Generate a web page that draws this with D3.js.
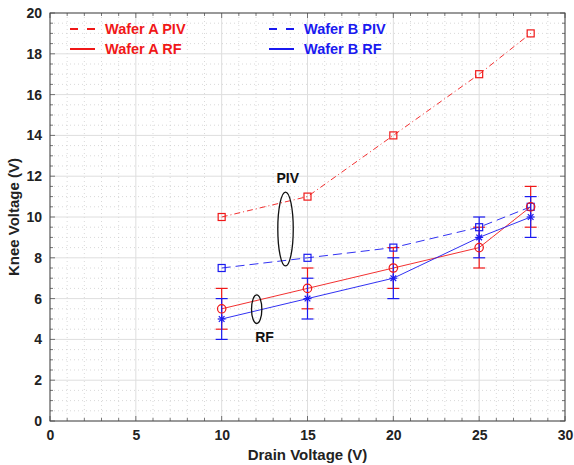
<!DOCTYPE html>
<html>
<head>
<meta charset="utf-8">
<script src="https://cdn.jsdelivr.net/npm/d3@7"></script>
<style>
  html, body { margin: 0; padding: 0; background: #fff; }
  svg { display: block; font-family: "Liberation Sans", Arial, Helvetica, sans-serif; }
</style>
</head>
<body>
<svg id="chart" width="574" height="465"></svg>
<script>
// ── Data ──
var drainV = [10, 15, 20, 25, 28];
var waferAPiv = [10, 11, 14, 17, 19];
var waferBPiv = [7.5, 8, 8.5, 9.5, 10.5];
var waferARf = [5.5, 6.5, 7.5, 8.5, 10.5];
var waferBRf = [5, 6, 7, 9, 10];
var errA = [1, 1, 1, 1, 1];
var errB = [1, 1, 1, 1, 1];
var xTicks = [0, 5, 10, 15, 20, 25, 30];
var yTicks = [0, 2, 4, 6, 8, 10, 12, 14, 16, 18, 20];
var legendLabels = ['Wafer A PIV', 'Wafer A RF', 'Wafer B PIV', 'Wafer B RF'];

(function () {
  'use strict';
  var svg = d3.select('#chart');
  var m = { left: 50, right: 565, top: 13, bottom: 421 };
  var x = d3.scaleLinear().domain([0, 30]).range([m.left, m.right]);
  var y = d3.scaleLinear().domain([0, 20]).range([m.bottom, m.top]);
  var RED = '#f01818', BLUE = '#1a1af0';

  // ── Grid ──
  var grid = svg.append('g');
  d3.range(0, 30.01, 1).forEach(function (v) {
    var major = v % 5 === 0;
    grid.append('line').attr('x1', x(v)).attr('x2', x(v)).attr('y1', m.top).attr('y2', m.bottom)
      .attr('stroke', major ? '#dedede' : '#c8c8c8').attr('stroke-width', major ? 1 : 0.7)
      .attr('stroke-dasharray', major ? null : '1,3');
  });
  d3.range(0, 20.01, 0.5).forEach(function (v) {
    var major = v % 2 === 0;
    grid.append('line').attr('y1', y(v)).attr('y2', y(v)).attr('x1', m.left).attr('x2', m.right)
      .attr('stroke', major ? '#dedede' : '#c8c8c8').attr('stroke-width', major ? 1 : 0.7)
      .attr('stroke-dasharray', major ? null : '1,3');
  });

  // ── Lines ──
  function series(vals, color, dash) {
    var line = d3.line().x(function (d, i) { return x(drainV[i]); }).y(function (d) { return y(d); });
    svg.append('path').datum(vals).attr('d', line).attr('fill', 'none')
      .attr('stroke', color).attr('stroke-width', 0.9).attr('stroke-dasharray', dash);
  }
  series(waferAPiv, RED, '6,3,1,3');
  series(waferBPiv, BLUE, '9,5');
  series(waferARf, RED, null);
  series(waferBRf, BLUE, null);

  // ── Error bars ──
  function errBars(vals, errs, color) {
    var g = svg.append('g').attr('stroke', color).attr('stroke-width', 1.2);
    vals.forEach(function (v, i) {
      var cx = x(drainV[i]);
      g.append('line').attr('x1', cx).attr('x2', cx).attr('y1', y(v - errs[i])).attr('y2', y(v + errs[i]));
      [v - errs[i], v + errs[i]].forEach(function (e) {
        g.append('line').attr('x1', cx - 6).attr('x2', cx + 6).attr('y1', y(e)).attr('y2', y(e));
      });
    });
  }
  errBars(waferARf, errA, RED);
  errBars(waferBRf, errB, BLUE);

  // ── Markers ──
  function squares(vals, color) {
    svg.append('g').selectAll('rect').data(vals).join('rect')
      .attr('x', function (d, i) { return x(drainV[i]) - 3.5; })
      .attr('y', function (d) { return y(d) - 3.5; })
      .attr('width', 7).attr('height', 7).attr('fill', 'none')
      .attr('stroke', color).attr('stroke-width', 1.2);
  }
  squares(waferAPiv, RED);
  squares(waferBPiv, BLUE);
  svg.append('g').selectAll('circle').data(waferARf).join('circle')
    .attr('cx', function (d, i) { return x(drainV[i]); })
    .attr('cy', function (d) { return y(d); })
    .attr('r', 4.2).attr('fill', 'none').attr('stroke', RED).attr('stroke-width', 1.2);
  var stars = svg.append('g').attr('stroke', BLUE).attr('stroke-width', 1.2);
  waferBRf.forEach(function (v, i) {
    var cx = x(drainV[i]), cy = y(v), r = 4;
    [0, 45, 90, 135].forEach(function (a) {
      var dx = r * Math.cos(a * Math.PI / 180), dy = r * Math.sin(a * Math.PI / 180);
      stars.append('line').attr('x1', cx - dx).attr('x2', cx + dx).attr('y1', cy - dy).attr('y2', cy + dy);
    });
  });

  // ── Annotations ──
  svg.append('ellipse').attr('cx', x(13.72)).attr('cy', y(9.41))
    .attr('rx', x(0.45) - x(0)).attr('ry', y(0) - y(1.81))
    .attr('fill', 'none').attr('stroke', '#111').attr('stroke-width', 1.3);
  svg.append('ellipse').attr('cx', x(12.04)).attr('cy', y(5.48))
    .attr('rx', x(0.3) - x(0)).attr('ry', y(0) - y(0.7))
    .attr('fill', 'none').attr('stroke', '#111').attr('stroke-width', 1.3);
  svg.append('text').attr('x', x(13.85)).attr('y', y(11.68)).attr('text-anchor', 'middle')
    .attr('font-size', 14).attr('font-weight', 'bold').attr('fill', '#111').text('PIV');
  svg.append('text').attr('x', x(12.5)).attr('y', y(3.85)).attr('text-anchor', 'middle')
    .attr('font-size', 14).attr('font-weight', 'bold').attr('fill', '#111').text('RF');

  // ── Legend ──
  var leg = [
    { lbl: legendLabels[0], c: RED, dash: '8,9', x: 70, y: 29 },
    { lbl: legendLabels[1], c: RED, dash: null, x: 70, y: 49 },
    { lbl: legendLabels[2], c: BLUE, dash: '8,9', x: 269, y: 29 },
    { lbl: legendLabels[3], c: BLUE, dash: null, x: 269, y: 49 }
  ];
  leg.forEach(function (l) {
    svg.append('line').attr('x1', l.x).attr('x2', l.x + 25).attr('y1', l.y).attr('y2', l.y)
      .attr('stroke', l.c).attr('stroke-width', 2).attr('stroke-dasharray', l.dash);
    svg.append('text').attr('x', l.x + 35).attr('y', l.y + 5).attr('fill', l.c)
      .attr('font-size', 14.5).attr('font-weight', 'bold').text(l.lbl);
  });

  // ── Axes ──
  var axisG = svg.append('g').attr('stroke', '#555').attr('stroke-width', 0.8);
  d3.range(0, 30.01, 1).forEach(function (v) {
    var len = v % 5 === 0 ? 5 : 3;
    axisG.append('line').attr('x1', x(v)).attr('x2', x(v)).attr('y1', m.bottom).attr('y2', m.bottom - len);
    axisG.append('line').attr('x1', x(v)).attr('x2', x(v)).attr('y1', m.top).attr('y2', m.top + len);
  });
  d3.range(0, 20.01, 0.5).forEach(function (v) {
    var len = v % 2 === 0 ? 5 : 3;
    axisG.append('line').attr('y1', y(v)).attr('y2', y(v)).attr('x1', m.left).attr('x2', m.left + len);
    axisG.append('line').attr('y1', y(v)).attr('y2', y(v)).attr('x1', m.right).attr('x2', m.right - len);
  });
  svg.append('rect').attr('x', m.left).attr('y', m.top).attr('width', m.right - m.left)
    .attr('height', m.bottom - m.top).attr('fill', 'none').attr('stroke', '#444').attr('stroke-width', 1);

  svg.append('g').attr('transform', 'translate(0,' + m.bottom + ')')
    .call(d3.axisBottom(x).tickValues(xTicks).tickSize(0).tickPadding(9))
    .call(function (g) { g.select('.domain').remove(); })
    .selectAll('text').attr('font-size', 14).attr('font-weight', 'bold').attr('fill', '#222')
    .attr('font-family', '"Liberation Sans", Arial, sans-serif');
  svg.append('g').attr('transform', 'translate(' + m.left + ',0)')
    .call(d3.axisLeft(y).tickValues(yTicks).tickSize(0).tickPadding(8))
    .call(function (g) { g.select('.domain').remove(); })
    .selectAll('text').attr('font-size', 14).attr('font-weight', 'bold').attr('fill', '#222')
    .attr('font-family', '"Liberation Sans", Arial, sans-serif');

  svg.append('text').attr('x', x(15)).attr('y', 460).attr('text-anchor', 'middle')
    .attr('font-size', 15).attr('font-weight', 'bold').attr('fill', '#222').text('Drain Voltage (V)');
  svg.append('text').attr('transform', 'translate(19,' + y(10) + ') rotate(-90)')
    .attr('text-anchor', 'middle')
    .attr('font-size', 15).attr('font-weight', 'bold').attr('fill', '#222').text('Knee Voltage (V)');
})();
</script>
</body>
</html>
